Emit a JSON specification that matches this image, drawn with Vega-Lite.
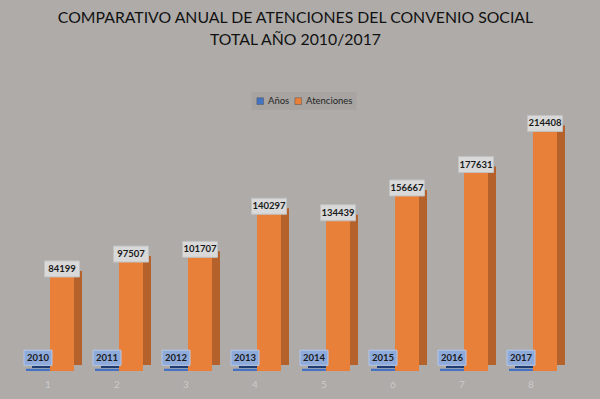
{
  "$schema": "https://vega.github.io/schema/vega-lite/v6.json",
  "width": 552,
  "height": 257,
  "autosize": {"type": "none"},
  "padding": {"left": 15.5, "top": 114, "right": 32.5, "bottom": 28},
  "background": "#aeaba9",
  "config": {"view": {"stroke": null}, "font": "Lato"},
  "title": {
    "text": ["COMPARATIVO ANUAL DE ATENCIONES DEL CONVENIO SOCIAL", "TOTAL AÑO 2010/2017"],
    "font": "Lato",
    "fontSize": 15.8,
    "fontWeight": "normal",
    "color": "#111111",
    "anchor": "middle",
    "lineHeight": 22,
    "offset": 43,
    "dx": 4
  },
  "data": {
    "values": [
      {"grupo": 1, "serie": "Años", "valor": 2010},
      {"grupo": 1, "serie": "Atenciones", "valor": 84199},
      {"grupo": 2, "serie": "Años", "valor": 2011},
      {"grupo": 2, "serie": "Atenciones", "valor": 97507},
      {"grupo": 3, "serie": "Años", "valor": 2012},
      {"grupo": 3, "serie": "Atenciones", "valor": 101707},
      {"grupo": 4, "serie": "Años", "valor": 2013},
      {"grupo": 4, "serie": "Atenciones", "valor": 140297},
      {"grupo": 5, "serie": "Años", "valor": 2014},
      {"grupo": 5, "serie": "Atenciones", "valor": 134439},
      {"grupo": 6, "serie": "Años", "valor": 2015},
      {"grupo": 6, "serie": "Atenciones", "valor": 156667},
      {"grupo": 7, "serie": "Años", "valor": 2016},
      {"grupo": 7, "serie": "Atenciones", "valor": 177631},
      {"grupo": 8, "serie": "Años", "valor": 2017},
      {"grupo": 8, "serie": "Atenciones", "valor": 214408}
    ]
  },
  "encoding": {
    "x": {
      "field": "grupo",
      "type": "ordinal",
      "scale": {"paddingInner": 0.304, "paddingOuter": 0.152},
      "axis": {
        "title": null,
        "labelAngle": 0,
        "domain": false,
        "ticks": false,
        "labelColor": "#cdcac8",
        "labelFontSize": 10,
        "labelFont": "Lato",
        "labelPadding": 8,
        "labelOffset": -2,
        "grid": false
      }
    },
    "y": {
      "field": "valor",
      "type": "quantitative",
      "scale": {"domain": [0, 230000]},
      "axis": null
    }
  },
  "layer": [
    {
      "transform": [{"filter": "datum.serie === 'Atenciones'"}],
      "mark": {"type": "bar", "width": 24, "xOffset": 20, "yOffset": -6, "fill": "#b5612b"}
    },
    {
      "transform": [{"filter": "datum.serie === 'Años'"}],
      "mark": {"type": "bar", "width": 24, "xOffset": -6, "yOffset": -3, "fill": "#1f3d73"}
    },
    {
      "transform": [{"filter": "datum.serie === 'Años'"}],
      "mark": {"type": "bar", "width": 24, "xOffset": -12},
      "encoding": {
        "color": {
          "field": "serie",
          "type": "nominal",
          "scale": {"domain": ["Años", "Atenciones"], "range": ["#4472c4", "#e9803a"]},
          "legend": {
            "orient": "none",
            "legendX": 236,
            "legendY": -22,
            "title": null,
            "direction": "horizontal",
            "fillColor": "#a7a4a2",
            "padding": 4,
            "symbolType": "square",
            "symbolSize": 45,
            "symbolStrokeColor": "#555555",
            "symbolStrokeWidth": 0.5,
            "labelFontSize": 9.5,
            "labelOffset": 3,
            "labelColor": "#262626",
            "labelFont": "Lato",
            "columnPadding": 4
          }
        }
      }
    },
    {
      "transform": [{"filter": "datum.serie === 'Atenciones'"}],
      "mark": {"type": "bar", "width": 24, "xOffset": 12},
      "encoding": {
        "color": {"field": "serie", "type": "nominal"}
      }
    },
    {
      "transform": [{"filter": "datum.serie === 'Atenciones'"}],
      "mark": {
        "type": "point",
        "shape": "M-1,-0.457L1,-0.457L1,0.457L-1,0.457Z",
        "size": 1225,
        "filled": true,
        "fill": "#d9d9d9",
        "stroke": "#c2c2c2",
        "strokeWidth": 1,
        "opacity": 1,
        "xOffset": 12,
        "yOffset": -8
      }
    },
    {
      "transform": [{"filter": "datum.serie === 'Atenciones'"}],
      "mark": {
        "type": "text",
        "font": "Lato",
        "fontWeight": "bold",
        "fontSize": 9.5,
        "color": "#1a1a1a",
        "baseline": "middle",
        "xOffset": 12,
        "yOffset": -8
      },
      "encoding": {"text": {"field": "valor", "type": "nominal"}}
    },
    {
      "transform": [{"filter": "datum.serie === 'Años'"}],
      "mark": {
        "type": "point",
        "shape": "M-1,-0.54L1,-0.54L1,0.54L-1,0.54Z",
        "size": 784,
        "filled": true,
        "fill": "#8eaadb",
        "stroke": "#b4c7e7",
        "strokeWidth": 1,
        "opacity": 1,
        "xOffset": -12,
        "yOffset": -11
      }
    },
    {
      "transform": [{"filter": "datum.serie === 'Años'"}],
      "mark": {
        "type": "text",
        "font": "Lato",
        "fontWeight": "bold",
        "fontSize": 9.5,
        "color": "#1a1a1a",
        "baseline": "middle",
        "xOffset": -12,
        "yOffset": -11
      },
      "encoding": {"text": {"field": "valor", "type": "nominal"}}
    }
  ]
}
